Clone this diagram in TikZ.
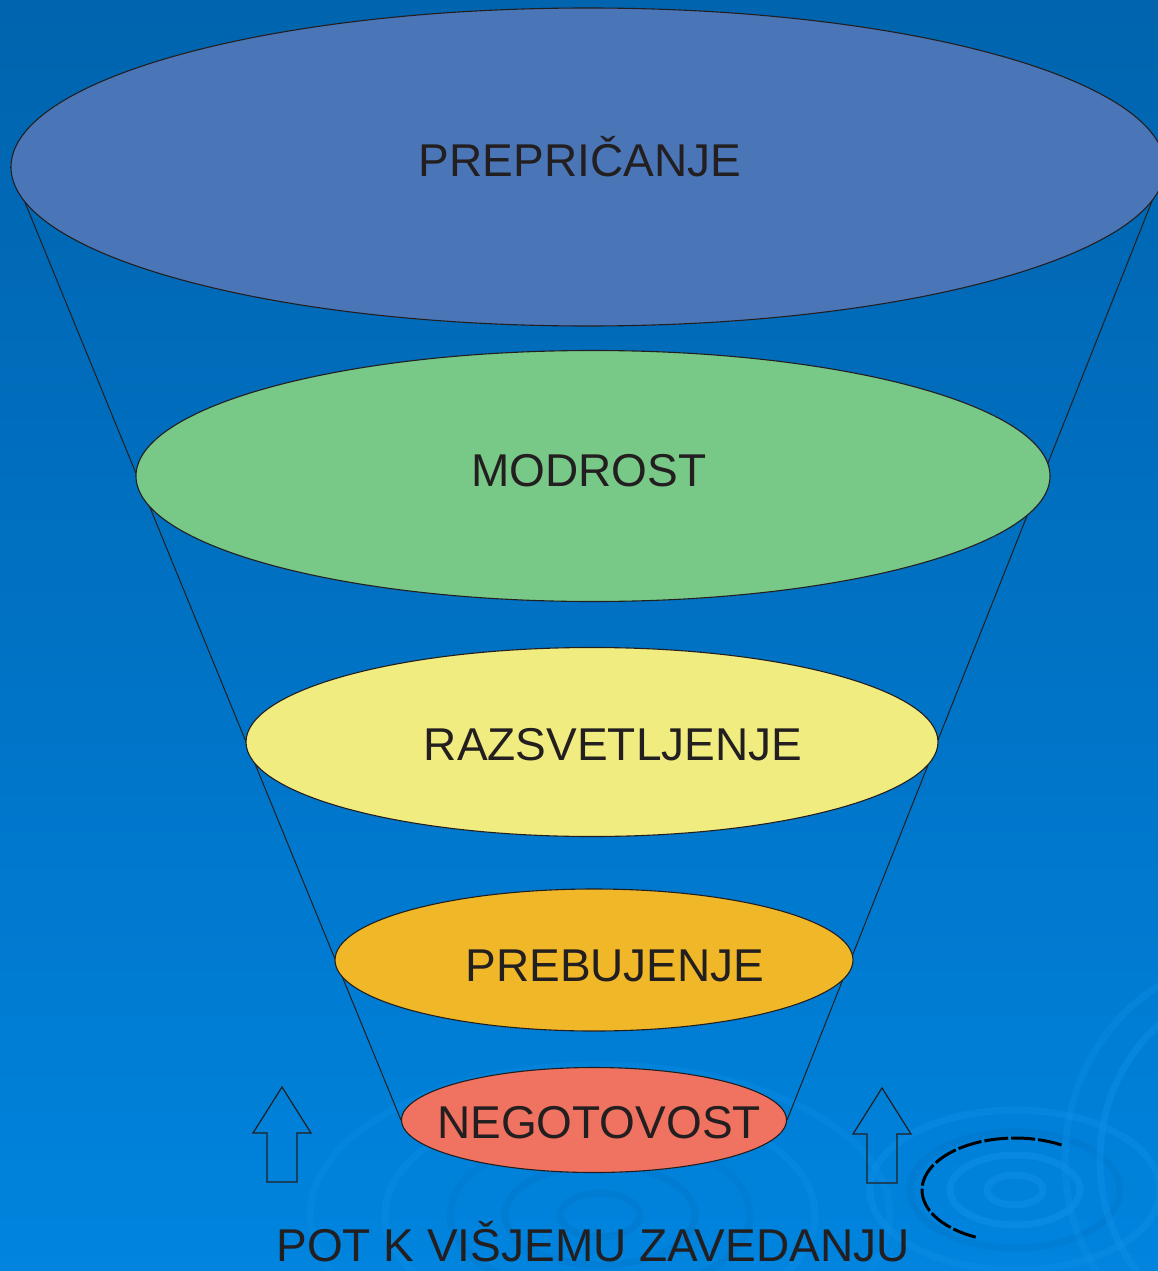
\documentclass[tikz,border=0pt]{standalone}
\usepackage{fontspec}
\setmainfont{Liberation Sans}
\usetikzlibrary{shapes.geometric}
\pgfdeclarelayer{bglayer}
\pgfdeclarelayer{linelayer}
\pgfsetlayers{bglayer,linelayer,main}
\definecolor{bgtop}{RGB}{0,100,174}
\definecolor{bgmid}{RGB}{0,114,196}
\definecolor{bgbot}{RGB}{0,132,222}
\definecolor{ripdark}{RGB}{0,120,204}
\definecolor{riplight}{RGB}{16,144,232}
\definecolor{inkc}{RGB}{35,31,32}
\definecolor{cblue}{RGB}{74,118,184}
\definecolor{cgreen}{RGB}{120,200,136}
\definecolor{cyellow}{RGB}{240,236,128}
\definecolor{corange}{RGB}{240,184,40}
\definecolor{cred}{RGB}{240,114,96}
\tikzset{
  stage/.style={ellipse, draw=inkc, line width=1.1pt, inner sep=0pt},
  lbl/.style={text=inkc, font=\fontsize{46}{46}\selectfont, anchor=base, inner sep=0pt},
  funnel/.style={draw=inkc, line width=1pt},
  ripple/.style={line width=7pt},
  uparrow/.pic={\draw[inkc, line width=1.2pt, line join=miter]
     (0,0) -- (29,46) -- (15,46) -- (15,95) -- (-15,95) -- (-15,46) -- (-29,46) -- cycle;}
}
\begin{document}
\begin{tikzpicture}[x=1pt,y=-1pt]
\useasboundingbox (0,0) rectangle (1158,1271);
\begin{pgfonlayer}{bglayer}
  \shade[top color=bgtop, bottom color=bgbot, middle color=bgmid] (0,0) rectangle (1158,1271);
  \begin{scope}
    \clip (0,0) rectangle (1158,1271);
    % ripples bottom centre
    \draw[ripple, ripdark, opacity=0.5] (600,1215) ellipse (40 and 22);
    \draw[ripple, ripdark, opacity=0.5] (600,1215) ellipse (95 and 50);
    \draw[ripple, ripdark, opacity=0.4] (600,1215) ellipse (150 and 80);
    \draw[ripple, riplight, opacity=0.35] (600,1215) ellipse (215 and 115);
    \draw[ripple, riplight, opacity=0.3] (600,1215) ellipse (290 and 150);
    % ripples bottom right
    \draw[ripple, riplight, opacity=0.5] (1015,1190) ellipse (28 and 15);
    \draw[ripple, riplight, opacity=0.5] (1015,1190) ellipse (65 and 35);
    \draw[ripple, ripdark, opacity=0.5] (1015,1190) ellipse (105 and 58);
    \draw[ripple, riplight, opacity=0.4] (1015,1190) ellipse (145 and 80);
    \draw[ripple, riplight, opacity=0.45] (1250,1160) ellipse (150 and 170);
    \draw[ripple, riplight, opacity=0.35] (1250,1160) ellipse (185 and 200);
  \end{scope}
\end{pgfonlayer}

% stages
\node[stage, fill=cblue,   minimum width=1154, minimum height=318] (e1) at (588,167) {};
\node[stage, fill=cgreen,  minimum width=914,  minimum height=251] (e2) at (593,476) {};
\node[stage, fill=cyellow, minimum width=692,  minimum height=189] (e3) at (592,742) {};
\node[stage, fill=corange, minimum width=518,  minimum height=142] (e4) at (594,960) {};
\node[stage, fill=cred,    minimum width=385,  minimum height=105] (e5) at (594,1120) {};

\begin{pgfonlayer}{linelayer}
  \draw[funnel] (e1.west) -- (e5.west);
  \draw[funnel] (e1.east) -- (e5.east);
\end{pgfonlayer}

\node[lbl] (t1) at (580,176) {PREPRIČANJE};
\node[lbl] (t2) at (589,486) {MODROST};
\node[lbl] (t3) at (613,760) {RAZSVETLJENJE};
\node[lbl] (t4) at (615,981) {PREBUJENJE};
\node[lbl] (t5) at (599,1138) {NEGOTOVOST};
\node[lbl] (t6) at (593,1261) {POT K VIŠJEMU ZAVEDANJU};

% up arrows
\coordinate (a1) at (282,1087);
\coordinate (a2) at (882,1088);
\pic at (a1) {uparrow};
\pic at (a2) {uparrow};

% dashed black arc bottom right
\coordinate (dc) at (1015,1190);
\draw[black, line width=3pt, dash pattern=on 24pt off 3pt]
  ([shift={(300:93 and 52)}]dc) arc[start angle=300, end angle=115, x radius=93, y radius=52];
\end{tikzpicture}
\end{document}
